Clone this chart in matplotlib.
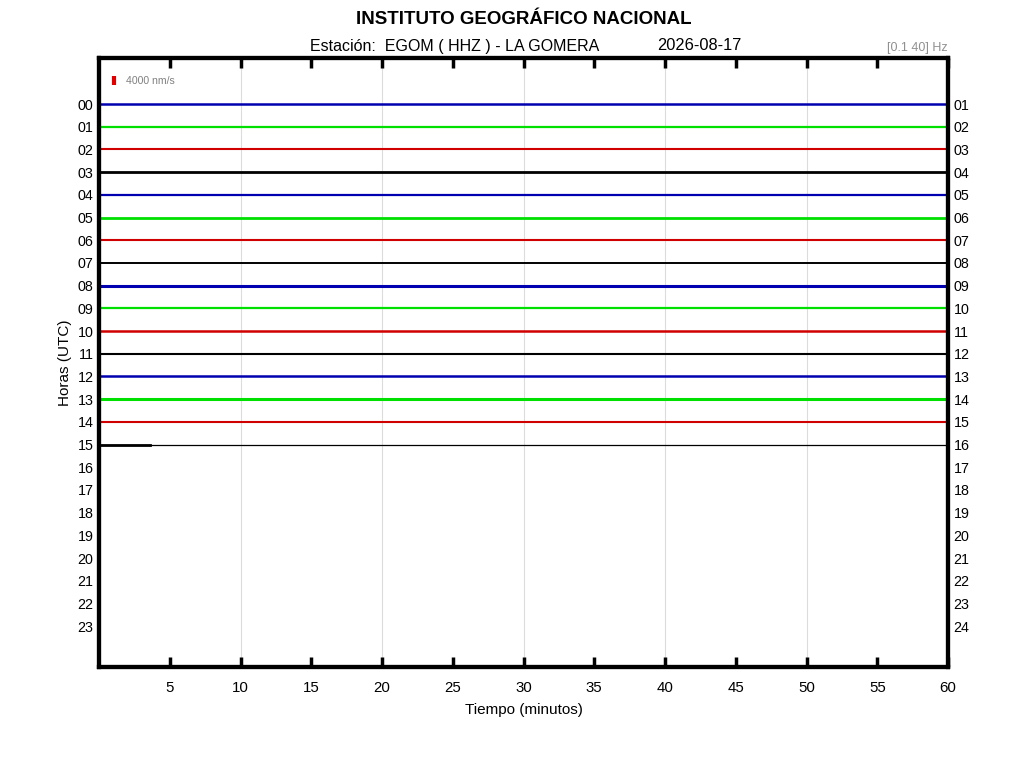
import matplotlib
matplotlib.use("Agg")
import matplotlib.pyplot as plt

plt.rcParams['font.family'] = ['Liberation Sans', 'DejaVu Sans']

# ---- data ----
hours = list(range(24))
left_labels = [f"{h:02d}" for h in range(24)]
right_labels = [f"{h:02d}" for h in range(1, 25)]
trace_colors = ['#0000b0', '#00e000', '#d00000', '#000000']
# hours with a full recording
recorded_hours = list(range(15))
partial_hour = 15
partial_minutes = 3.6
trace_widths = [1.8, 1.6, 1.5, 2.0, 1.6, 2.0, 1.5, 1.4, 2.2, 1.6, 1.8, 1.5, 1.8, 2.2, 1.5]
xticks = [5, 10, 15, 20, 25, 30, 35, 40, 45, 50, 55, 60]
grid_x = [10, 20, 30, 40, 50]

fig = plt.figure(figsize=(10.24, 7.68), dpi=100)
ax = fig.add_axes([99/1024, 1-667/768, 849/1024, 609/768])
ax.set_xlim(0, 60)
ax.set_ylim(24.8, -2.03)

for gx in grid_x:
    ax.axvline(gx, color='#dcdcdc', lw=0.8, zorder=0)

for h in recorded_hours:
    c = trace_colors[h % 4]
    ax.plot([0, 60], [h, h], color=c, lw=trace_widths[h], solid_capstyle='butt', zorder=2)
# partial hour
ax.plot([0, 60], [partial_hour, partial_hour], color='black', lw=0.9, zorder=2)
ax.plot([0, partial_minutes], [partial_hour, partial_hour], color='black', lw=2.0, zorder=3)

ax.set_xticks(xticks)
ax.set_xticklabels([str(t) for t in xticks], fontsize=10.8)
ax.tick_params(axis='x', direction='in', length=7, width=2.5, top=True, pad=10)
ax.set_yticks(hours)
ax.set_yticklabels(left_labels, fontsize=10.3)
ax.tick_params(axis='y', length=0, pad=4)
ax2 = ax.twinx()
ax2.set_ylim(ax.get_ylim())
ax2.set_yticks(hours)
ax2.set_yticklabels(right_labels, fontsize=10.3)
ax2.tick_params(axis='y', length=0, pad=4)

for a in (ax, ax2):
    for s in a.spines.values():
        s.set_linewidth(3)

ax.set_xlabel('Tiempo (minutos)', fontsize=11, labelpad=6)
ax.set_ylabel('Horas (UTC)', fontsize=11, labelpad=4)

# legend scale bar
ax.plot([1.05, 1.05], [-1.25, -0.85], color='#e00000', lw=3, solid_capstyle='butt')
ax.text(1.9, -1.0, '4000 nm/s', fontsize=7.6, color='#808080', va='center', ha='left')

fig.text(524/1024, 1-20/768, 'INSTITUTO GEOGRÁFICO NACIONAL', fontsize=13.5, fontweight='bold', ha='center', va='center')
fig.text(310/1024, 1-46/768, 'Estación:  EGOM ( HHZ ) - LA GOMERA', fontsize=11.5, ha='left', va='center')
fig.text(657/1024, 1-46/768, '2026-08-17', fontsize=11.8, ha='left', va='center')
fig.text(948/1024, 1-48/768, '[0.1 40] Hz', fontsize=9, color='#909090', ha='right', va='center')

fig.savefig('out.png', dpi=100)
